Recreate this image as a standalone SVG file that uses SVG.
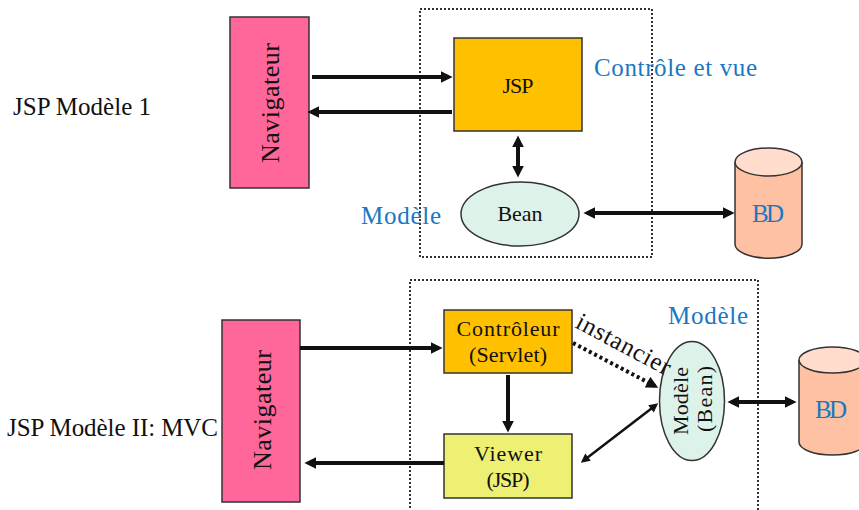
<svg xmlns="http://www.w3.org/2000/svg" width="859" height="510" viewBox="0 0 859 510">
<style>
.t{font-family:"Liberation Serif","Times New Roman",serif;fill:#111}
.b{font-family:"Liberation Serif","Times New Roman",serif;fill:#1a78c2}
.box{stroke:#333;stroke-width:1.5}
.dot{fill:none;stroke:#333;stroke-width:2;stroke-dasharray:2 2}
.arr{stroke:#111;stroke-width:4;fill:none}
.arrs{stroke:#111;stroke-width:2.5;fill:none}
</style>
<defs>
<marker id="ah" viewBox="0 0 10 10" refX="7" refY="5" markerWidth="12" markerHeight="12" markerUnits="userSpaceOnUse" orient="auto-start-reverse"><path d="M0,0 L10,5 L0,10 z" fill="#111"/></marker>
<marker id="ahs" viewBox="0 0 10 10" refX="7" refY="5" markerWidth="10" markerHeight="9" markerUnits="userSpaceOnUse" orient="auto-start-reverse"><path d="M0,0 L10,5 L0,10 z" fill="#111"/></marker>
</defs>
<rect width="859" height="510" fill="#fff"/>

<!-- labels -->
<text class="t" x="13" y="115" font-size="25" textLength="138">JSP Modèle 1</text>
<text class="t" x="7" y="436" font-size="25" textLength="211">JSP Modèle II: MVC</text>

<!-- top section -->
<rect class="dot" x="420" y="9" width="232" height="248"/>
<g id="nav1">
<rect class="box" x="230" y="17" width="79" height="171" fill="#ff6699"/>
<text class="t" font-size="26" text-anchor="middle" transform="translate(279,103) rotate(-90)" textLength="120">Navigateur</text>
</g>
<g id="jsp1">
<rect class="box" x="454" y="38" width="128" height="93" fill="#ffc000"/>
<text class="t" x="518" y="93" font-size="22" text-anchor="middle" textLength="31">JSP</text>
</g>
<g id="bean1">
<ellipse class="box" cx="520" cy="214" rx="59" ry="32" fill="#ddf2e8"/>
<text class="t" x="520" y="221" font-size="22" text-anchor="middle" textLength="45">Bean</text>
</g>
<g id="bd1">
<path class="box" d="M735,162 V244 A33,14 0 0 0 802,244 V162" fill="#ffc1a3"/>
<ellipse class="box" cx="768.5" cy="162" rx="33.5" ry="14" fill="#ffdccc"/>
<text class="b" x="768" y="222" font-size="25" text-anchor="middle" textLength="32">BD</text>
</g>
<text class="b" x="594" y="76" font-size="25" textLength="163">Contrôle et vue</text>
<text class="b" x="361" y="224" font-size="25" textLength="80">Modèle</text>

<!-- bottom section -->
<rect class="dot" x="410" y="280" width="348" height="240"/>
<g id="nav2">
<rect class="box" x="222" y="320" width="78" height="182" fill="#ff6699"/>
<text class="t" font-size="26" text-anchor="middle" transform="translate(271,410) rotate(-90)" textLength="120">Navigateur</text>
</g>
<g id="ctrl">
<rect class="box" x="444" y="310" width="128" height="63" fill="#ffc000"/>
<text class="t" x="508" y="336" font-size="22" text-anchor="middle" textLength="103">Contrôleur</text>
<text class="t" x="508" y="362" font-size="22" text-anchor="middle" textLength="78">(Servlet)</text>
</g>
<g id="viewer">
<rect class="box" x="444" y="434" width="128" height="64" fill="#eef073"/>
<text class="t" x="508" y="461" font-size="22" text-anchor="middle" textLength="68">Viewer</text>
<text class="t" x="508" y="487" font-size="22" text-anchor="middle" textLength="43">(JSP)</text>
</g>
<g id="model">
<ellipse class="box" cx="692" cy="401" rx="32.5" ry="59.5" fill="#ddf2e8"/>
<text class="t" font-size="22" text-anchor="middle" transform="translate(688,401) rotate(-90)" textLength="68">Modèle</text>
<text class="t" font-size="22" text-anchor="middle" transform="translate(712,399) rotate(-90)" textLength="66">(Bean)</text>
</g>
<g id="bd2">
<path class="box" d="M799,360 V442 A33.5,13 0 0 0 866,442 V360" fill="#ffc1a3"/>
<ellipse class="box" cx="832.5" cy="360" rx="33.5" ry="13" fill="#ffdccc"/>
<text class="b" x="831" y="418" font-size="25" text-anchor="middle" textLength="32">BD</text>
</g>
<text class="b" x="668" y="324" font-size="25" textLength="80">Modèle</text>
<text class="t" font-size="25" transform="translate(574,327) rotate(28)" textLength="104">instancier</text>

<!-- connectors -->
<g id="connectors">
<line class="arr" x1="312" y1="77" x2="449" y2="77" marker-end="url(#ah)"/>
<line class="arr" x1="452" y1="112" x2="311" y2="112" marker-end="url(#ah)"/>
<line class="arr" x1="518" y1="139" x2="518" y2="174" marker-start="url(#ah)" marker-end="url(#ah)"/>
<line class="arr" x1="587" y1="213" x2="731" y2="213" marker-start="url(#ah)" marker-end="url(#ah)"/>
<line class="arr" x1="300" y1="348" x2="439" y2="348" marker-end="url(#ah)"/>
<line class="arr" x1="444" y1="463" x2="308" y2="463" marker-end="url(#ah)"/>
<line class="arr" x1="508" y1="375" x2="508" y2="429" marker-end="url(#ah)"/>
<line class="arr" stroke-dasharray="3 3" x1="573" y1="343" x2="655" y2="386" marker-end="url(#ah)"/>
<line class="arrs" x1="583" y1="461" x2="656" y2="405" marker-start="url(#ahs)" marker-end="url(#ahs)"/>
<line class="arr" x1="731" y1="402" x2="793" y2="402" marker-start="url(#ah)" marker-end="url(#ah)"/>
</g>
</svg>
